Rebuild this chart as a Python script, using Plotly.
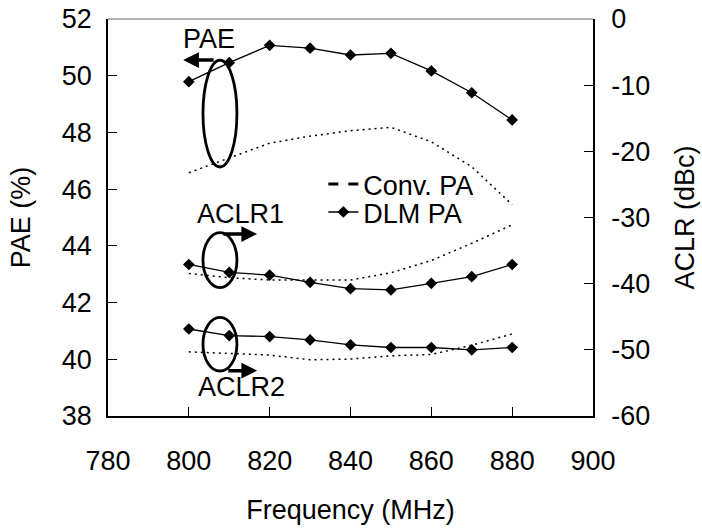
import plotly.graph_objects as go

freq = [800, 810, 820, 830, 840, 850, 860, 870, 880]
pae_dlm = [49.79, 50.46, 51.07, 50.97, 50.73, 50.79, 50.17, 49.40, 48.44]
pae_conv = [46.58, 47.09, 47.62, 47.87, 48.06, 48.18, 47.67, 46.79, 45.45]
aclr1_dlm = [-37.1, -38.3, -38.7, -39.8, -40.75, -40.95, -39.95, -38.95, -37.1]
aclr1_conv = [-38.45, -39.1, -39.45, -39.45, -39.45, -38.35, -36.5, -33.9, -31.1]
aclr2_dlm = [-46.85, -47.85, -48.0, -48.5, -49.25, -49.65, -49.65, -50.0, -49.65]
aclr2_conv = [-50.3, -50.6, -50.8, -51.5, -51.4, -50.9, -50.7, -49.3, -47.6]

x_ticks = [780, 800, 820, 840, 860, 880, 900]
pae_ticks = [38, 40, 42, 44, 46, 48, 50, 52]
aclr_ticks = [-60, -50, -40, -30, -20, -10, 0]
aclr_ticktext = ["-60", "-50", "-40", "-30", "-20", "-10", "0"]

FONT = "Liberation Sans, Arial, sans-serif"
FS = 27
dot = "2px,4px"

fig = go.Figure()
# Conv PA (dotted)
for y, ya in [(pae_conv, "y"), (aclr1_conv, "y2"), (aclr2_conv, "y2")]:
    fig.add_trace(go.Scatter(x=freq, y=y, mode="lines", line=dict(color="black", width=1.5, dash=dot),
                             showlegend=False, yaxis=ya))
# DLM PA
mk = dict(symbol="diamond", size=9, color="black")
for y, ya in [(pae_dlm, "y"), (aclr1_dlm, "y2"), (aclr2_dlm, "y2")]:
    fig.add_trace(go.Scatter(x=freq, y=y, mode="lines+markers", line=dict(color="black", width=1.3),
                             marker=mk, showlegend=False, yaxis=ya))
# legend entries
fig.add_trace(go.Scatter(x=[None], y=[None], mode="lines", name="Conv. PA",
                         line=dict(color="black", width=3, dash="10px,10px"), legend="legend"))
fig.add_trace(go.Scatter(x=[None], y=[None], mode="lines+markers", name="DLM PA",
                         line=dict(color="black", width=1.5), marker=mk, legend="legend2"))

# ellipses
ell = [
    (803.5, 811.9, 46.78, 50.55, "y"),
    (803.5, 811.9, -32.3, -40.6, "y2"),
    (803.5, 811.9, -45.1, -53.2, "y2"),
]
for x0, x1, y0, y1, ya in ell:
    fig.add_shape(type="circle", xref="x", yref=ya, x0=x0, x1=x1, y0=y0, y1=y1, opacity=1,
                  fillcolor="rgba(0,0,0,0)", line=dict(color="black", width=2.8))

# arrows
arrows = [
    (806.5, 50.55, 798.6, 50.55, "y"),
    (808.2, -32.5, 816.9, -32.5, "y2"),
    (809.4, -53.15, 816.9, -53.15, "y2"),
]
for xs, ys, xe, ye, ya in arrows:
    fig.add_annotation(x=xe, y=ye, ax=xs, ay=ys, xref="x", yref=ya, axref="x", ayref=ya,
                       showarrow=True, arrowhead=2, arrowsize=0.9, arrowwidth=3.5,
                       arrowcolor="black", text="")

labels = [("PAE", 805.0, 51.3, "y"), ("ACLR1", 812.8, -29.5, "y2"), ("ACLR2", 813.0, -55.6, "y2")]
for t, x, y, ya in labels:
    fig.add_annotation(x=x, y=y, xref="x", yref=ya, text=t, showarrow=False,
                       font=dict(family=FONT, size=FS, color="black"))

# top border (grey)
fig.add_shape(type="line", xref="paper", yref="paper", x0=0, x1=1, y0=1, y1=1, opacity=1,
              line=dict(color="#999999", width=1.5))

tf = dict(family=FONT, size=FS, color="black")
axis_common = dict(showgrid=False, zeroline=False, showline=True, linecolor="black", linewidth=1.5,
                   ticks="inside", ticklen=9, tickwidth=1.2, tickcolor="black",
                   tickfont=tf, automargin=False, ticklabeloverflow="allow")

leg_common = dict(xanchor="left", yanchor="top", bgcolor="rgba(0,0,0,0)", font=tf, itemwidth=30)

fig.update_layout(
    template="none",
    width=702, height=530,
    margin=dict(l=108, r=109, t=19, b=114),
    paper_bgcolor="white", plot_bgcolor="white",
    font=tf,
    xaxis=dict(range=[780, 900], tickvals=x_ticks, ticklabelstandoff=20,
               title=dict(text="Frequency (MHz)", standoff=25, font=tf), **axis_common),
    yaxis=dict(range=[38, 52], tickvals=pae_ticks, ticklabelstandoff=9,
               title=dict(text="PAE (%)", standoff=23, font=tf), **axis_common),
    yaxis2=dict(range=[-60, 0], tickvals=aclr_ticks, ticktext=aclr_ticktext, overlaying="y", side="right",
                ticklabelstandoff=11,
                title=dict(text="ACLR (dBc)", standoff=26, font=tf), **axis_common),
    legend=dict(x=0.444, y=0.645, **leg_common),
    legend2=dict(x=0.444, y=0.5745, **leg_common),
)

fig.write_html("out.html", config={"displayModeBar": False},
               post_script="document.body.style.margin='0';document.body.style.overflow='hidden';")
